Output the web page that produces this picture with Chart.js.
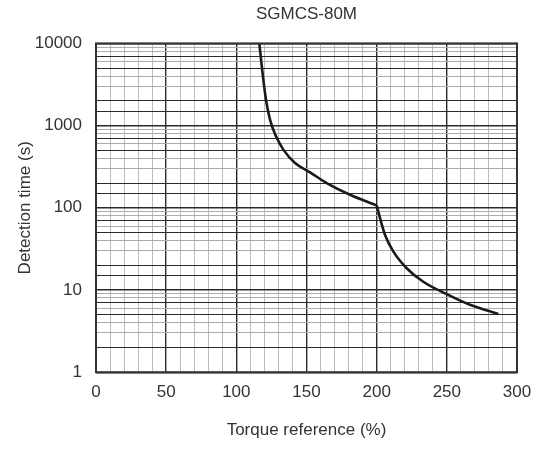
<!DOCTYPE html>
<html>
<head>
<meta charset="utf-8">
<script src="https://cdn.jsdelivr.net/npm/chart.js@4/dist/chart.umd.min.js"></script>
<style>
  html, body { margin: 0; padding: 0; background: #fff; }
  #wrap { width: 539px; height: 453px; }
</style>
</head>
<body>
<div id="wrap"><canvas id="overloadChart" width="539" height="453"></canvas></div>
<script>
// curve, split at the kink (200 %)
var torqueHigh = [116.4, 117.6, 119.2, 121.1, 124, 128.3, 133.5, 141.8, 152.5, 164.4, 181, 200];
var timeHigh   = [10000, 6400, 3640, 2080, 1180, 740, 510, 350, 270, 200, 144, 107];
var torqueLow  = [200, 202.4, 205.9, 211.9, 221.4, 233.2, 249.9, 266.5, 286.7];
var timeLow    = [107, 75, 47, 29.3, 18.4, 12.6, 8.9, 6.6, 5.1];

var xTicks = [0, 50, 100, 150, 200, 250, 300];
var yTicks = [1, 10, 100, 1000, 10000];

var textColor = '#333';
var fontFam = '"Liberation Sans", Arial, sans-serif';

function toPoints(xs, ys) {
    var pts = [];
    xs.forEach(function (x, i) { pts.push({ x: x, y: ys[i] }); });
    return pts;
}

var lineStyle = {
    borderColor: '#1a1a1a',
    borderWidth: 2.6,
    pointRadius: 0,
    fill: false,
    cubicInterpolationMode: 'monotone'
};

// frame round the plot area (top and right edges too)
var frame = {
    id: 'frame',
    afterDraw: function (chart) {
        var a = chart.chartArea, c = chart.ctx;
        c.save();
        c.strokeStyle = '#333';
        c.lineWidth = 2;
        c.strokeRect(a.left, a.top, a.right - a.left, a.bottom - a.top);
        c.restore();
    }
};

function mantissa(v) {
    return Math.round(v / Math.pow(10, Math.floor(Math.log10(v) + 1e-9)));
}

new Chart(document.getElementById('overloadChart'), {
    type: 'line',
    data: {
        datasets: [
            Object.assign({ data: toPoints(torqueHigh, timeHigh) }, lineStyle),
            Object.assign({ data: toPoints(torqueLow, timeLow) }, lineStyle)
        ]
    },
    options: {
        responsive: false,
        animation: false,
        layout: { padding: { left: 6, right: 22, top: 3, bottom: 6 } },
        plugins: {
            legend: { display: false },
            tooltip: { enabled: false },
            title: {
                display: true,
                text: 'SGMCS-80M',
                fullSize: false,
                color: textColor,
                font: { family: fontFam, size: 17, weight: 'normal' },
                padding: { top: 1, bottom: 19 }
            }
        },
        scales: {
            x: {
                type: 'linear',
                min: 0, max: 300,
                // keep the plot's right edge where the picture has it
                afterFit: function (scale) { scale.paddingRight = 0; },
                grid: {
                    drawTicks: false,
                    color: function (ctx) { return ctx.tick.value % 50 === 0 ? '#2b2b2b' : '#b9bdbd'; },
                    lineWidth: function (ctx) { return ctx.tick.value % 50 === 0 ? 1.4 : 1; }
                },
                border: { display: false },
                ticks: {
                    stepSize: 10,
                    autoSkip: false,
                    maxRotation: 0,
                    padding: 10,
                    color: textColor,
                    font: { family: fontFam, size: 17 },
                    callback: function (v) { return xTicks.indexOf(v) >= 0 ? String(v) : ''; }
                },
                title: {
                    display: true,
                    text: 'Torque reference (%)',
                    color: textColor,
                    font: { family: fontFam, size: 17 },
                    padding: { top: 8, bottom: 6 }
                }
            },
            y: {
                type: 'logarithmic',
                min: 1, max: 10000,
                afterFit: function (scale) { scale.width = 90; },
                grid: {
                    drawTicks: false,
                    color: function (ctx) {
                        var m = mantissa(ctx.tick.value);
                        return (m === 1 || m === 2 || m === 5 || m === 7) ? '#2b2b2b' : '#a9adad';
                    },
                    lineWidth: function (ctx) { return mantissa(ctx.tick.value) === 1 ? 1.4 : 1; }
                },
                border: { display: false },
                ticks: {
                    autoSkip: false,
                    padding: 14,
                    color: textColor,
                    font: { family: fontFam, size: 17 },
                    callback: function (v) { return yTicks.indexOf(v) >= 0 ? String(v) : ''; }
                },
                title: {
                    display: true,
                    text: 'Detection time (s)',
                    color: textColor,
                    font: { family: fontFam, size: 17 },
                    padding: { top: 9, bottom: 0 }
                }
            }
        }
    },
    plugins: [frame]
});
</script>
</body>
</html>
